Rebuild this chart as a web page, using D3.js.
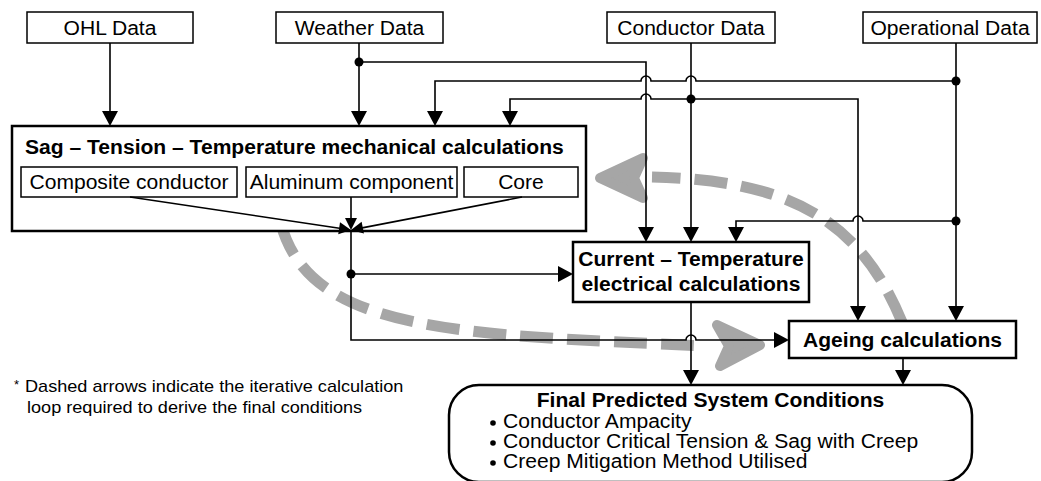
<!DOCTYPE html>
<html>
<head>
<meta charset="utf-8">
<script src="https://cdn.jsdelivr.net/npm/d3@7"></script>
<style>
  body { margin: 0; background: #fff; }
  text { font-family: "Liberation Sans", Arial, sans-serif; fill: #000; }
</style>
</head>
<body>
<svg></svg>
<script>
let inputLabels = ['OHL Data', 'Weather Data', 'Conductor Data', 'Operational Data'];
let mechTitle = 'Sag – Tension – Temperature mechanical calculations';
let componentLabels = ['Composite conductor', 'Aluminum component', 'Core'];
let electricalLines = ['Current – Temperature', 'electrical calculations'];
let ageingLabel = 'Ageing calculations';
let finalTitle = 'Final Predicted System Conditions';
let finalItems = ['Conductor Ampacity', 'Conductor Critical Tension & Sag with Creep', 'Creep Mitigation Method Utilised'];
let noteLines = ['Dashed arrows indicate the iterative calculation', 'loop required to derive the final conditions'];

let width = 1041;
let height = 481;
let loopColor = '#a6a6a6';

let svg = d3.select('svg')
    .attr('width', width)
    .attr('height', height);

// layout of the boxes
let inputBoxes = [{x: 27, w: 166}, {x: 276, w: 167}, {x: 607, w: 168}, {x: 863, w: 174}];
let mech = {x: 12, y: 126, w: 574, h: 105};
let compBoxes = [{x: 21, w: 216}, {x: 246, w: 211}, {x: 464, w: 114}];
let elec = {x: 573, y: 242, w: 236, h: 60};
let ageing = {x: 789, y: 321, w: 227, h: 37};
let fin = {x: 449, y: 385, w: 523, h: 97};

// stretch text a bit wider, the original figure is slightly wide
function stretch(sel, k) {
    sel.each(function() {
        let w = this.getComputedTextLength();
        d3.select(this)
            .attr('textLength', w * k)
            .attr('lengthAdjust', 'spacingAndGlyphs');
    });
}

// ---- iterative loop (grey dashed arrows), drawn underneath ----
let loop = svg.append('g');

let c1 = d3.path();
c1.moveTo(281, 224);
c1.bezierCurveTo(310, 330, 450, 335, 708, 346);
let c2 = d3.path();
c2.moveTo(902, 322);
c2.bezierCurveTo(860, 220, 790, 180, 652, 177);

loop.selectAll('.loop')
    .data([c1.toString(), c2.toString()])
    .enter()
    .append('path')
        .attr('d', d => d)
        .attr('fill', 'none')
        .attr('stroke', loopColor)
        .attr('stroke-width', 11)
        .attr('stroke-dasharray', '33 14');

let loopHeads = [
    [[760, 345], [717, 325], [729, 346], [720, 366]],
    [[600, 178], [643, 158], [634, 178], [643, 198]]
];
loop.selectAll('.head')
    .data(loopHeads)
    .enter()
    .append('path')
        .attr('d', d => d3.line()(d) + 'Z')
        .attr('fill', loopColor)
        .attr('stroke', loopColor)
        .attr('stroke-width', 10)
        .attr('stroke-linejoin', 'round');

// ---- boxes ----
let boxes = svg.append('g');

boxes.selectAll('.input')
    .data(inputBoxes)
    .enter()
    .append('rect')
        .attr('x', d => d.x)
        .attr('y', 12)
        .attr('width', d => d.w)
        .attr('height', 31)
        .attr('fill', '#fff')
        .attr('stroke', '#000')
        .attr('stroke-width', 1.5);

boxes.selectAll('.main')
    .data([mech, elec, ageing])
    .enter()
    .append('rect')
        .attr('x', d => d.x)
        .attr('y', d => d.y)
        .attr('width', d => d.w)
        .attr('height', d => d.h)
        .attr('fill', '#fff')
        .attr('stroke', '#000')
        .attr('stroke-width', 2.5);

boxes.append('rect')
    .attr('x', fin.x)
    .attr('y', fin.y)
    .attr('width', fin.w)
    .attr('height', fin.h)
    .attr('rx', 30)
    .attr('fill', '#fff')
    .attr('stroke', '#000')
    .attr('stroke-width', 2.5);

boxes.selectAll('.comp')
    .data(compBoxes)
    .enter()
    .append('rect')
        .attr('x', d => d.x)
        .attr('y', 167)
        .attr('width', d => d.w)
        .attr('height', 30)
        .attr('fill', '#fff')
        .attr('stroke', '#000')
        .attr('stroke-width', 1.5);

// the grey loop passes behind the boxes but the visible parts stay on top
svg.node().appendChild(loop.node());
svg.node().appendChild(boxes.node());

// ---- connectors ----
let wires = svg.append('g');
let hopR = 5;

function wire(pts, hops = [], len = 15, half = 8) {
    let p = d3.path();
    let n = pts.length;
    let [ex, ey] = pts[n - 1];
    let [px, py] = pts[n - 2];
    let ang = Math.atan2(ey - py, ex - px);
    let stop = [ex - Math.cos(ang) * (len - 2), ey - Math.sin(ang) * (len - 2)];
    p.moveTo(pts[0][0], pts[0][1]);
    for (let i = 1; i < n; i++) {
        let [x0, y0] = pts[i - 1];
        let [x1, y1] = i === n - 1 ? stop : pts[i];
        if (y0 === y1) {
            let dir = Math.sign(x1 - x0);
            hops.filter(h => (h - x0) * (h - x1) < 0)
                .sort((a, b) => (a - b) * dir)
                .forEach(h => {
                    p.lineTo(h - dir * hopR, y0);
                    if (dir > 0) p.arc(h, y0, hopR, Math.PI, 2 * Math.PI, false);
                    else p.arc(h, y0, hopR, 0, -Math.PI, true);
                });
        }
        p.lineTo(x1, y1);
    }
    wires.append('path')
        .attr('d', p.toString())
        .attr('fill', 'none')
        .attr('stroke', '#000')
        .attr('stroke-width', 1.6);
    let head = [
        [ex, ey],
        [ex - Math.cos(ang) * len - Math.sin(ang) * half, ey - Math.sin(ang) * len + Math.cos(ang) * half],
        [ex - Math.cos(ang) * len + Math.sin(ang) * half, ey - Math.sin(ang) * len - Math.cos(ang) * half]
    ];
    wires.append('path')
        .attr('d', d3.line()(head) + 'Z')
        .attr('fill', '#000');
}

wire([[110, 43], [110, 126]]);
wire([[359, 43], [359, 126]]);
wire([[359, 62], [646, 62], [646, 242]]);
wire([[956, 81], [435, 81], [435, 126]], [646, 691]);
wire([[691, 43], [691, 242]]);
wire([[691, 99], [510, 99], [510, 126]], [646]);
wire([[691, 99], [858, 99], [858, 321]]);
wire([[956, 43], [956, 321]]);
wire([[956, 221], [736, 221], [736, 242]], [858]);
wire([[130, 197], [351, 230]], [], 12, 6);
wire([[351, 197], [351, 230]], [], 12, 6);
wire([[522, 197], [351, 230]], [], 12, 6);
wire([[351, 231], [351, 340], [789, 340]], [691]);
wire([[351, 274], [573, 274]]);
wire([[691, 302], [691, 385]]);
wire([[903, 358], [903, 385]]);

wires.selectAll('circle')
    .data([[359, 62], [956, 81], [691, 99], [956, 221], [351, 274]])
    .enter()
    .append('circle')
        .attr('cx', d => d[0])
        .attr('cy', d => d[1])
        .attr('r', 4.5)
        .attr('fill', '#000');

// ---- texts ----
let fs = 19.5;
let k = 1.08;
let txt = svg.append('g');

txt.selectAll('.inLabel')
    .data(inputLabels)
    .enter()
    .append('text')
        .attr('x', (d, i) => inputBoxes[i].x + inputBoxes[i].w / 2)
        .attr('y', 35)
        .attr('text-anchor', 'middle')
        .attr('font-size', fs)
        .text(d => d)
        .call(stretch, k);

txt.append('text')
    .attr('x', 25)
    .attr('y', 154)
    .attr('font-size', fs)
    .attr('font-weight', 'bold')
    .text(mechTitle)
    .call(stretch, k);

txt.selectAll('.compLabel')
    .data(componentLabels)
    .enter()
    .append('text')
        .attr('x', (d, i) => compBoxes[i].x + compBoxes[i].w / 2)
        .attr('y', 189)
        .attr('text-anchor', 'middle')
        .attr('font-size', fs)
        .text(d => d)
        .call(stretch, k);

txt.selectAll('.elecLabel')
    .data(electricalLines)
    .enter()
    .append('text')
        .attr('x', elec.x + elec.w / 2)
        .attr('y', (d, i) => 266 + i * 25)
        .attr('text-anchor', 'middle')
        .attr('font-size', fs)
        .attr('font-weight', 'bold')
        .text(d => d)
        .call(stretch, k);

txt.append('text')
    .attr('x', ageing.x + ageing.w / 2)
    .attr('y', 347)
    .attr('text-anchor', 'middle')
    .attr('font-size', fs)
    .attr('font-weight', 'bold')
    .text(ageingLabel)
    .call(stretch, k);

txt.append('text')
    .attr('x', fin.x + fin.w / 2)
    .attr('y', 407)
    .attr('text-anchor', 'middle')
    .attr('font-size', fs)
    .attr('font-weight', 'bold')
    .text(finalTitle)
    .call(stretch, k);

txt.selectAll('.item')
    .data(finalItems)
    .enter()
    .append('text')
        .attr('x', 503)
        .attr('y', (d, i) => 428 + i * 20)
        .attr('font-size', fs)
        .text(d => d)
        .call(stretch, k);

txt.selectAll('.bullet')
    .data(finalItems)
    .enter()
    .append('circle')
        .attr('cx', 493)
        .attr('cy', (d, i) => 423 + i * 20)
        .attr('r', 2.8)
        .attr('fill', '#000');

txt.append('text')
    .attr('x', 14)
    .attr('y', 389)
    .attr('font-size', 13)
    .text('*');

txt.selectAll('.note')
    .data(noteLines)
    .enter()
    .append('text')
        .attr('x', (d, i) => i ? 27 : 25)
        .attr('y', (d, i) => 392 + i * 21)
        .attr('font-size', 17)
        .text(d => d)
        .call(stretch, 1.065);
</script>
</body>
</html>
